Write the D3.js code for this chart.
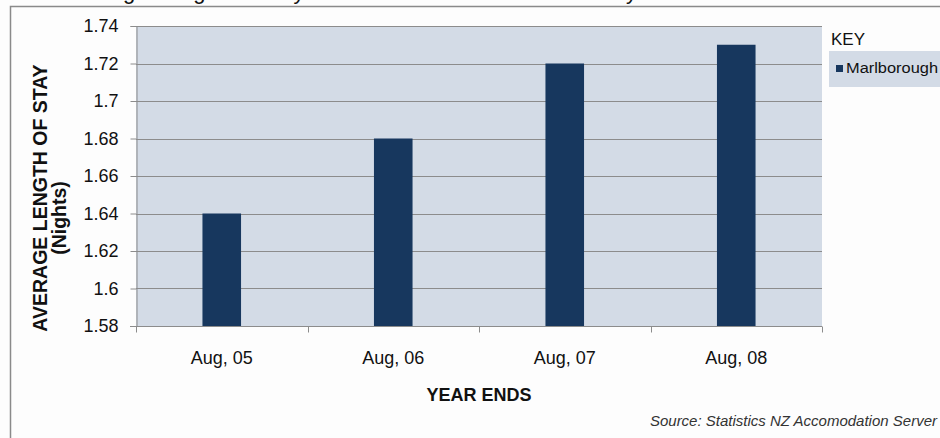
<!DOCTYPE html>
<html>
<head>
<meta charset="utf-8">
<script src="https://cdn.jsdelivr.net/npm/d3@7"></script>
<style>
  html, body { margin: 0; padding: 0; background: #fdfdfd; }
  svg { display: block; font-family: Arial, "Liberation Sans", sans-serif; }
</style>
</head>
<body>
<svg id="chart" width="940" height="438"></svg>
<script>
// Average length of stay, Marlborough, year ending August
const categories = ["Aug, 05", "Aug, 06", "Aug, 07", "Aug, 08"];
const seriesName = "Marlborough";
const stayNights = [1.64, 1.68, 1.72, 1.73];
const yTicks = [1.58, 1.6, 1.62, 1.64, 1.66, 1.68, 1.7, 1.72, 1.74];
const yTickLabels = ["1.58", "1.6", "1.62", "1.64", "1.66", "1.68", "1.7", "1.72", "1.74"];

const svg = d3.select("#chart");
const W = 940, H = 438;
const plot = { left: 136, right: 822, top: 26, bottom: 326 };

// outer frame (top and left edges only are in view)
svg.append("path")
  .attr("d", `M10.5,${H} L10.5,6.5 L${W},6.5`)
  .attr("fill", "none").attr("stroke", "#8a8a8a").attr("stroke-width", 1.5);

// title sits above the frame, only its descenders reach into view
svg.append("text")
  .attr("x", 66).attr("y", -1)
  .attr("font-size", 22).attr("fill", "#111")
  .attr("word-spacing", 3)
  .text("Average Length of Stay in Commercial Accomodation by Year");

const x = d3.scaleBand().domain(categories).range([plot.left, plot.right]).paddingInner(0).paddingOuter(0);
const y = d3.scaleLinear().domain([1.58, 1.74]).range([plot.bottom, plot.top]);

// plot background
svg.append("rect")
  .attr("x", plot.left).attr("y", plot.top)
  .attr("width", plot.right - plot.left).attr("height", plot.bottom - plot.top)
  .attr("fill", "#d3dbe6");

// horizontal gridlines
svg.append("g").selectAll("line").data(yTicks.filter(t => t > 1.58)).join("line")
  .attr("x1", plot.left).attr("x2", plot.right)
  .attr("y1", d => Math.round(y(d)) + 0.5).attr("y2", d => Math.round(y(d)) + 0.5)
  .attr("stroke", "#8c8c8c").attr("stroke-width", 1);

// bars
const barW = x.bandwidth() * 0.225;
svg.append("g").selectAll("rect").data(stayNights).join("rect")
  .attr("x", (d, i) => x(categories[i]) + (x.bandwidth() - barW) / 2)
  .attr("y", d => y(d))
  .attr("width", barW)
  .attr("height", d => y(1.58) - y(d))
  .attr("fill", "#17375e");

// y axis
const yAxis = d3.axisLeft(y).tickValues(yTicks)
  .tickFormat((d, i) => yTickLabels[i]).tickSize(6).tickPadding(12);
const gy = svg.append("g").attr("transform", `translate(${plot.left + 0.5},0)`).call(yAxis);
gy.select(".domain").attr("stroke", "#8c8c8c");
gy.selectAll(".tick line").attr("stroke", "#8c8c8c");
gy.selectAll(".tick text").attr("font-size", 18).attr("fill", "#111")
  .attr("font-family", "Arial, 'Liberation Sans', sans-serif");

// x axis, ticks on category boundaries
const gx = svg.append("g").attr("transform", `translate(0,${plot.bottom + 0.5})`);
gx.append("line").attr("x1", plot.left - 6).attr("x2", plot.right)
  .attr("stroke", "#8c8c8c");
gx.selectAll("line.b").data(d3.range(categories.length + 1)).join("line")
  .attr("class", "b")
  .attr("x1", i => Math.round(plot.left + i * x.step()) + 0.5)
  .attr("x2", i => Math.round(plot.left + i * x.step()) + 0.5)
  .attr("y1", 0).attr("y2", 6).attr("stroke", "#8c8c8c");
gx.selectAll("text").data(categories).join("text")
  .attr("x", d => x(d) + x.bandwidth() / 2)
  .attr("y", 37)
  .attr("text-anchor", "middle").attr("font-size", 18).attr("fill", "#111")
  .text(d => d);

// axis titles
svg.append("text")
  .attr("x", plot.left + (plot.right - plot.left) / 2).attr("y", 401)
  .attr("text-anchor", "middle").attr("font-size", 18).attr("font-weight", "bold").attr("fill", "#111")
  .text("YEAR ENDS");
const yt = svg.append("text")
  .attr("transform", "translate(47,198) rotate(-90)")
  .attr("text-anchor", "middle").attr("font-size", 19.5).attr("font-weight", "bold").attr("fill", "#111");
yt.append("tspan").attr("x", 0).attr("y", 0).text("AVERAGE LENGTH OF STAY");
yt.append("tspan").attr("x", -20).attr("y", 19).text("(Nights)");

// legend
svg.append("text").attr("x", 831).attr("y", 45)
  .attr("font-size", 17).attr("fill", "#111").text("KEY");
const lg = svg.append("g");
lg.append("rect").attr("x", 829).attr("y", 51).attr("width", W - 829).attr("height", 36)
  .attr("fill", "#d3dbe6");
lg.append("rect").attr("x", 836).attr("y", 65).attr("width", 7).attr("height", 7)
  .attr("fill", "#17375e");
lg.append("text").attr("x", 846).attr("y", 73)
  .attr("font-size", 14).attr("fill", "#111")
  .attr("textLength", 92).attr("lengthAdjust", "spacingAndGlyphs")
  .text(seriesName);

// source note
svg.append("text").attr("x", 937).attr("y", 426)
  .attr("text-anchor", "end").attr("font-size", 15).attr("font-style", "italic").attr("fill", "#333")
  .text("Source: Statistics NZ Accomodation Server");
</script>
</body>
</html>
